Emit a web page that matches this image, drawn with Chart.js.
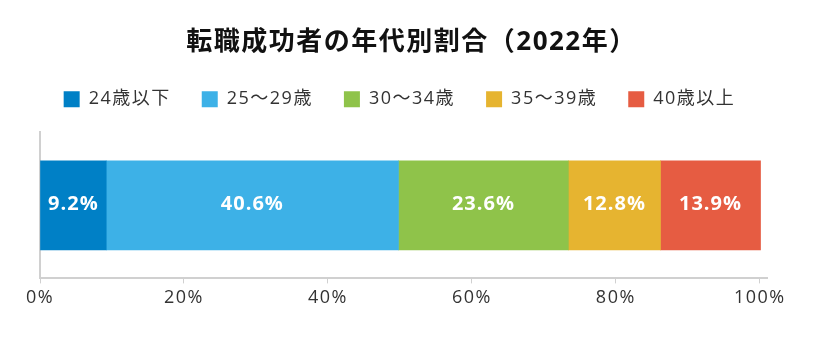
<!DOCTYPE html>
<html lang="ja">
<head>
<meta charset="utf-8">
<title>転職成功者の年代別割合</title>
<script src="https://cdn.jsdelivr.net/npm/chart.js@4.4.1/dist/chart.umd.min.js"></script>
<style>
  html, body { margin: 0; padding: 0; background: #fff; }
  #wrap { width: 823px; height: 340px; }
</style>
</head>
<body>
<div id="wrap"><canvas id="grafico" width="823" height="340"></canvas></div>
<script>
// 年代ごとの割合（%）
const categorias = ['2022年'];
const grupos = ['24歳以下', '25～29歳', '30～34歳', '35～39歳', '40歳以上'];
const valores = [9.2, 40.6, 23.6, 12.8, 13.9];
const colores = ['#0080c6', '#3db1e7', '#8fc34a', '#e6b430', '#e65c42'];
const ticksX = [0, 20, 40, 60, 80, 100];

const fuente = '"Open Sans", "Noto Sans CJK JP", sans-serif';

// 文字間を少し広げる（キャンバスのサイズ設定で状態が消えるので毎回入れる）
const espaciado = {
  id: 'espaciado',
  afterInit(chart) {
    // 凡例と棒グラフの間を広げる
    const fit = chart.legend.fit;
    chart.legend.fit = function () {
      fit.call(this);
      this.height += 14;
    };
  },
  afterLayout(chart) {
    // 凡例は棒の範囲の中央に寄せる
    chart.legend.left -= 12;
    chart.legend.right -= 12;
  },
  beforeUpdate(chart) { chart.ctx.letterSpacing = '1.5px'; },
  beforeDraw(chart) { chart.ctx.letterSpacing = '1.5px'; }
};

// 各セグメントの中央に白文字で値を描く
const etiquetas = {
  id: 'etiquetas',
  afterDatasetsDraw(chart) {
    const ctx = chart.ctx;
    ctx.save();
    ctx.letterSpacing = '1px';
    ctx.fillStyle = '#fff';
    ctx.font = 'bold 20px ' + fuente;
    ctx.textAlign = 'center';
    ctx.textBaseline = 'middle';
    chart.data.datasets.forEach((ds, i) => {
      chart.getDatasetMeta(i).data.forEach((bar, j) => {
        const p = bar.getProps(['x', 'base', 'y'], true);
        ctx.fillText(ds.data[j].toFixed(1) + '%', (p.x + p.base) / 2, p.y - 1);
      });
    });
    ctx.restore();
  }
};

new Chart(document.getElementById('grafico').getContext('2d'), {
  type: 'bar',
  data: {
    labels: categorias,
    datasets: grupos.map((g, i) => ({
      label: g,
      data: [valores[i]],
      backgroundColor: colores[i],
      borderWidth: 0,
      barThickness: 89
    }))
  },
  options: {
    indexAxis: 'y',
    responsive: false,
    animation: false,
    layout: { padding: { left: 0, right: 0, top: 0, bottom: 27 } },
    plugins: {
      title: {
        display: true,
        text: '転職成功者の年代別割合（2022年）',
        color: '#111',
        font: { family: fuente, size: 26, weight: 'bold' },
        padding: { top: 27, bottom: 1 }
      },
      legend: {
        labels: {
          boxWidth: 16,
          boxHeight: 16,
          padding: 31,
          color: '#333',
          font: { family: fuente, size: 18 }
        }
      },
      tooltip: { enabled: false }
    },
    scales: {
      x: {
        stacked: true,
        min: 0,
        max: 101,
        afterBuildTicks(axis) {
          axis.ticks = ticksX.map(v => ({ value: v }));
        },
        border: { color: '#d0d0d0', width: 2 },
        grid: { drawOnChartArea: false, drawTicks: true, tickLength: 5, color: '#d0d0d0', lineWidth: 1 },
        ticks: {
          color: '#333',
          padding: 4,
          font: { family: fuente, size: 18 },
          callback: v => v + '%'
        }
      },
      y: {
        stacked: true,
        border: { color: '#d0d0d0', width: 2 },
        grid: { display: false },
        ticks: { display: false },
        afterFit(s) { s.width = 40; }
      },
      // 右側の余白だけを取る空の軸
      margen: {
        type: 'linear',
        position: 'right',
        grid: { display: false },
        border: { display: false },
        ticks: { display: false },
        afterFit(s) { s.width = 56; }
      }
    }
  },
  plugins: [espaciado, etiquetas]
});
</script>
</body>
</html>
